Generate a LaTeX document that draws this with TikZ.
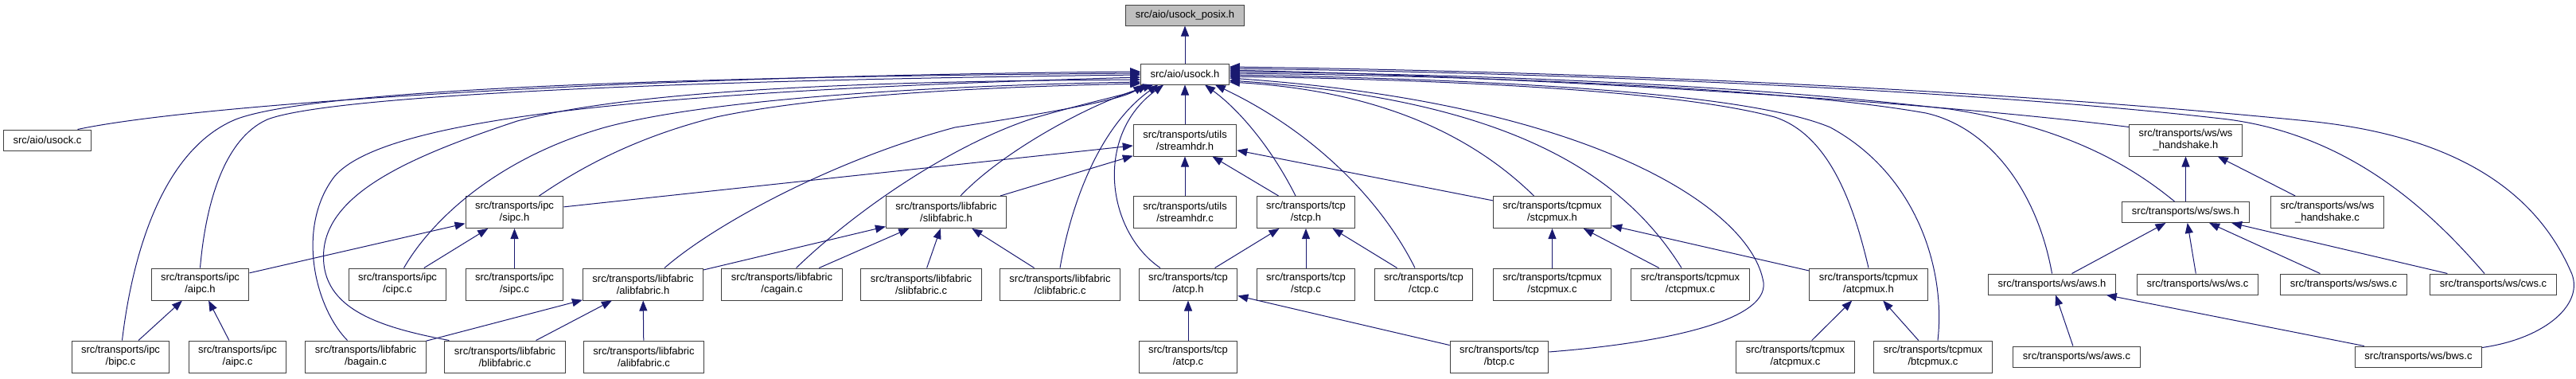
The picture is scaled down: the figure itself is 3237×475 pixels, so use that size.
\documentclass[tikz,border=0pt]{standalone}
\usepackage{fontspec}
\newfontfamily\dotfont{Liberation Sans}
\usetikzlibrary{arrows.meta,calc}
\definecolor{edgeblue}{HTML}{191970}
\definecolor{rootgray}{HTML}{BFBFBF}

\begin{document}
\begin{tikzpicture}[x=0.75pt, y=-0.75pt,
  file/.style={draw=black!75, line width=0.75pt, fill=white, align=center,
    font=\dotfont\fontsize{9.75}{11.25}\selectfont,
    inner xsep=9pt, inner ysep=2pt, minimum height=19.5pt},
  two/.style={file, minimum height=30pt},
  dep/.style={draw=edgeblue, line width=0.75pt,
    -{Triangle[length=9.75pt,width=7.5pt]}}]
  \useasboundingbox (0,0) rectangle (3237,475);
  % top rows
  \node[file, fill=rootgray] (posix) at (1489,19) {src/aio/usock\_posix.h};
  \node[file] (usockh) at (1489,93) {src/aio/usock.h};
  \node[file] (usockc) at (59.5,176) {src/aio/usock.c};
  \node[two] (streamh) at (1489,176) {src/transports/utils\\/streamhdr.h};
  \node[two] (wshsh) at (2746.5,176) {src/transports/ws/ws\\\_handshake.h};
  \node[two] (sipch) at (646.5,266.5) {src/transports/ipc\\/sipc.h};
  \node[two] (slibh) at (1189,266.5) {src/transports/libfabric\\/slibfabric.h};
  \node[two] (streamc) at (1489,266.5) {src/transports/utils\\/streamhdr.c};
  \node[two] (stcph) at (1641,266.5) {src/transports/tcp\\/stcp.h};
  \node[two] (stcpmuxh) at (1950.5,266.5) {src/transports/tcpmux\\/stcpmux.h};
  \node[file] (swsh) at (2746.5,266.5) {src/transports/ws/sws.h};
  \node[two] (wshsc) at (2924.5,266.5) {src/transports/ws/ws\\\_handshake.c};
  % fourth row
  \node[two] (aipch) at (251.5,357) {src/transports/ipc\\/aipc.h};
  \node[two] (cipcc) at (499.5,357) {src/transports/ipc\\/cipc.c};
  \node[two] (sipcc) at (646.5,357) {src/transports/ipc\\/sipc.c};
  \node[two] (alibh) at (808,357) {src/transports/libfabric\\/alibfabric.h};
  \node[two] (cagainc) at (982.5,357) {src/transports/libfabric\\/cagain.c};
  \node[two] (slibc) at (1157.5,357) {src/transports/libfabric\\/slibfabric.c};
  \node[two] (clibc) at (1332,357) {src/transports/libfabric\\/clibfabric.c};
  \node[two] (atcph) at (1493,357) {src/transports/tcp\\/atcp.h};
  \node[two] (stcpc) at (1641,357) {src/transports/tcp\\/stcp.c};
  \node[two] (ctcpc) at (1789,357) {src/transports/tcp\\/ctcp.c};
  \node[two] (stcpmuxc) at (1950.5,357) {src/transports/tcpmux\\/stcpmux.c};
  \node[two] (ctcpmuxc) at (2124,357) {src/transports/tcpmux\\/ctcpmux.c};
  \node[two] (atcpmuxh) at (2348,357) {src/transports/tcpmux\\/atcpmux.h};
  \node[file] (awsh) at (2578.5,357) {src/transports/ws/aws.h};
  \node[file] (wsc) at (2761.5,357) {src/transports/ws/ws.c};
  \node[file] (swsc) at (2945,357) {src/transports/ws/sws.c};
  \node[file] (cwsc) at (3133,357) {src/transports/ws/cws.c};
  % bottom row
  \node[two] (bipcc) at (151.5,448) {src/transports/ipc\\/bipc.c};
  \node[two] (aipcc) at (298.5,448) {src/transports/ipc\\/aipc.c};
  \node[two] (bagainc) at (459.5,448) {src/transports/libfabric\\/bagain.c};
  \node[two] (blibc) at (634.5,448) {src/transports/libfabric\\/blibfabric.c};
  \node[two] (alibc) at (809,448) {src/transports/libfabric\\/alibfabric.c};
  \node[two] (atcpc) at (1493,448) {src/transports/tcp\\/atcp.c};
  \node[two] (btcpc) at (1884,448) {src/transports/tcp\\/btcp.c};
  \node[two] (atcpmuxc) at (2256,448) {src/transports/tcpmux\\/atcpmux.c};
  \node[two] (btcpmuxc) at (2429,448) {src/transports/tcpmux\\/btcpmux.c};
  \node[file] (awsc) at (2609.5,448) {src/transports/ws/aws.c};
  \node[file] (bwsc) at (3039,448) {src/transports/ws/bws.c};

  % short includes
  \foreach \a/\b in {usockh/posix, streamh/usockh, bipcc/aipch, aipcc/aipch,
      aipch/sipch, cipcc/sipch, sipcc/sipch, sipch/streamh, bagainc/alibh,
      blibc/alibh, alibc/alibh, alibh/slibh, cagainc/slibh, slibc/slibh,
      clibc/slibh, slibh/streamh, streamc/streamh, stcph/streamh,
      atcph/stcph, stcpc/stcph, ctcpc/stcph, atcpc/atcph, btcpc/atcph,
      stcpmuxh/streamh, stcpmuxc/stcpmuxh, ctcpmuxc/stcpmuxh,
      atcpmuxh/stcpmuxh, atcpmuxc/atcpmuxh, btcpmuxc/atcpmuxh, awsh/swsh,
      awsc/awsh, bwsc/awsh, wsc/swsh, swsc/swsh, cwsc/swsh, swsh/wshsh,
      wshsc/wshsh}
    \draw[dep] (\a) -- (\b);

  % long includes of usock.h, from the left
  \draw[dep] ($(usockc.north)+(38,0)$) .. controls (250,130) and (800,95) .. ($(usockh.west)+(0,-3)$);
  \draw[dep] ($(bipcc.north)+(2,0)$) .. controls (165,330) and (200,190) .. (296,150)
    .. controls (400,110) and (900,96) .. ($(usockh.west)+(0,-1)$);
  \draw[dep] (aipch.north) .. controls (258,260) and (280,175) .. (336,150)
    .. controls (420,118) and (900,100) .. ($(usockh.west)+(0,1)$);
  \draw[dep] ($(bagainc.north)+(-23,0)$) .. controls (395,385) and (372,285) .. (420,222)
    .. controls (480,150) and (800,115) .. ($(usockh.west)+(0,4)$);
  \draw[dep] ($(blibc.north west)+(6,0)$) .. controls (470,410) and (400,385) .. (407,313)
    .. controls (415,240) and (520,195) .. (650,152)
    .. controls (800,112) and (1100,102) .. ($(usockh.west)+(0,7)$);
  \draw[dep] ($(cipcc.north)+(8,0)$) .. controls (540,280) and (620,200) .. (760,160)
    .. controls (900,122) and (1200,107) .. ($(usockh.west)+(0,10)$);
  \draw[dep] ($(sipch.north)+(31,0)$) .. controls (730,210) and (800,172) .. (900,147)
    .. controls (1050,115) and (1300,108) .. ($(usockh.west)+(0,12)$);
  \draw[dep] ($(alibh.north)+(27,0)$) .. controls (900,280) and (1050,200) .. (1200,160)
    .. controls (1330,140) and (1410,125) .. ($(usockh.south west)+(4,0)$);
  \draw[dep] ($(cagainc.north)+(18,0)$) .. controls (1080,260) and (1200,180) .. (1300,148)
    .. controls (1380,125) and (1420,118) .. ($(usockh.south west)+(9,0)$);
  \draw[dep] ($(slibh.north)+(18,0)$) .. controls (1260,190) and (1370,130) .. ($(usockh.south west)+(16,0)$);
  \draw[dep] (clibc.north) .. controls (1345,260) and (1380,160) .. ($(usockh.south west)+(22,0)$);
  \draw[dep] ($(atcph.north)+(-35,0)$) .. controls (1390,290) and (1375,170) .. ($(usockh.south west)+(29,0)$);
  % from the right
  \draw[dep] ($(stcph.north)+(-13,0)$) .. controls (1600,190) and (1560,140) .. ($(usockh.south)+(25,0)$);
  \draw[dep] ($(ctcpc.north)+(-11,0)$) .. controls (1740,260) and (1660,170) .. ($(usockh.south east)+(-18,0)$);
  \draw[dep] ($(stcpmuxh.north)+(-23,0)$) .. controls (1860,180) and (1750,115) .. ($(usockh.east)+(0,10)$);
  \draw[dep] ($(ctcpmuxc.north)+(-11,0)$) .. controls (2040,220) and (1900,125) .. ($(usockh.east)+(0,8)$);
  \draw[dep] ($(btcpc.east)+(0,-6)$) .. controls (2100,430) and (2230,400) .. (2215,350)
    .. controls (2195,260) and (2000,130) .. ($(usockh.east)+(0,5)$);
  \draw[dep] (atcpmuxh.north) .. controls (2330,260) and (2300,170) .. (2230,147)
    .. controls (2100,112) and (1800,100) .. ($(usockh.east)+(0,3)$);
  \draw[dep] ($(btcpmuxc.north)+(6,0)$) .. controls (2445,340) and (2410,220) .. (2300,160)
    .. controls (2200,118) and (1900,100) .. ($(usockh.east)+(0,1)$);
  \draw[dep] (awsh.north) .. controls (2560,240) and (2500,160) .. (2420,142)
    .. controls (2250,112) and (1900,96) .. ($(usockh.east)+(0,-1)$);
  \draw[dep] ($(swsh.north)+(-14,0)$) .. controls (2680,210) and (2600,160) .. (2450,137)
    .. controls (2200,108) and (1900,94) .. ($(usockh.east)+(0,-3)$);
  \draw[dep] ($(wshsh.north west)+(0,4)$) .. controls (2400,125) and (1900,96) .. ($(usockh.east)+(0,-5)$);
  \draw[dep] ($(cwsc.north)+(-11,0)$) .. controls (3050,260) and (2950,170) .. (2800,150)
    .. controls (2500,115) and (2000,92) .. ($(usockh.east)+(0,-7)$);
  \draw[dep] ($(bwsc.north east)+(0,2)$) .. controls (3200,425) and (3250,380) .. (3230,340)
    .. controls (3190,250) and (3100,172) .. (2900,152)
    .. controls (2500,112) and (2000,90) .. ($(usockh.east)+(0,-9)$);
\end{tikzpicture}
\end{document}
